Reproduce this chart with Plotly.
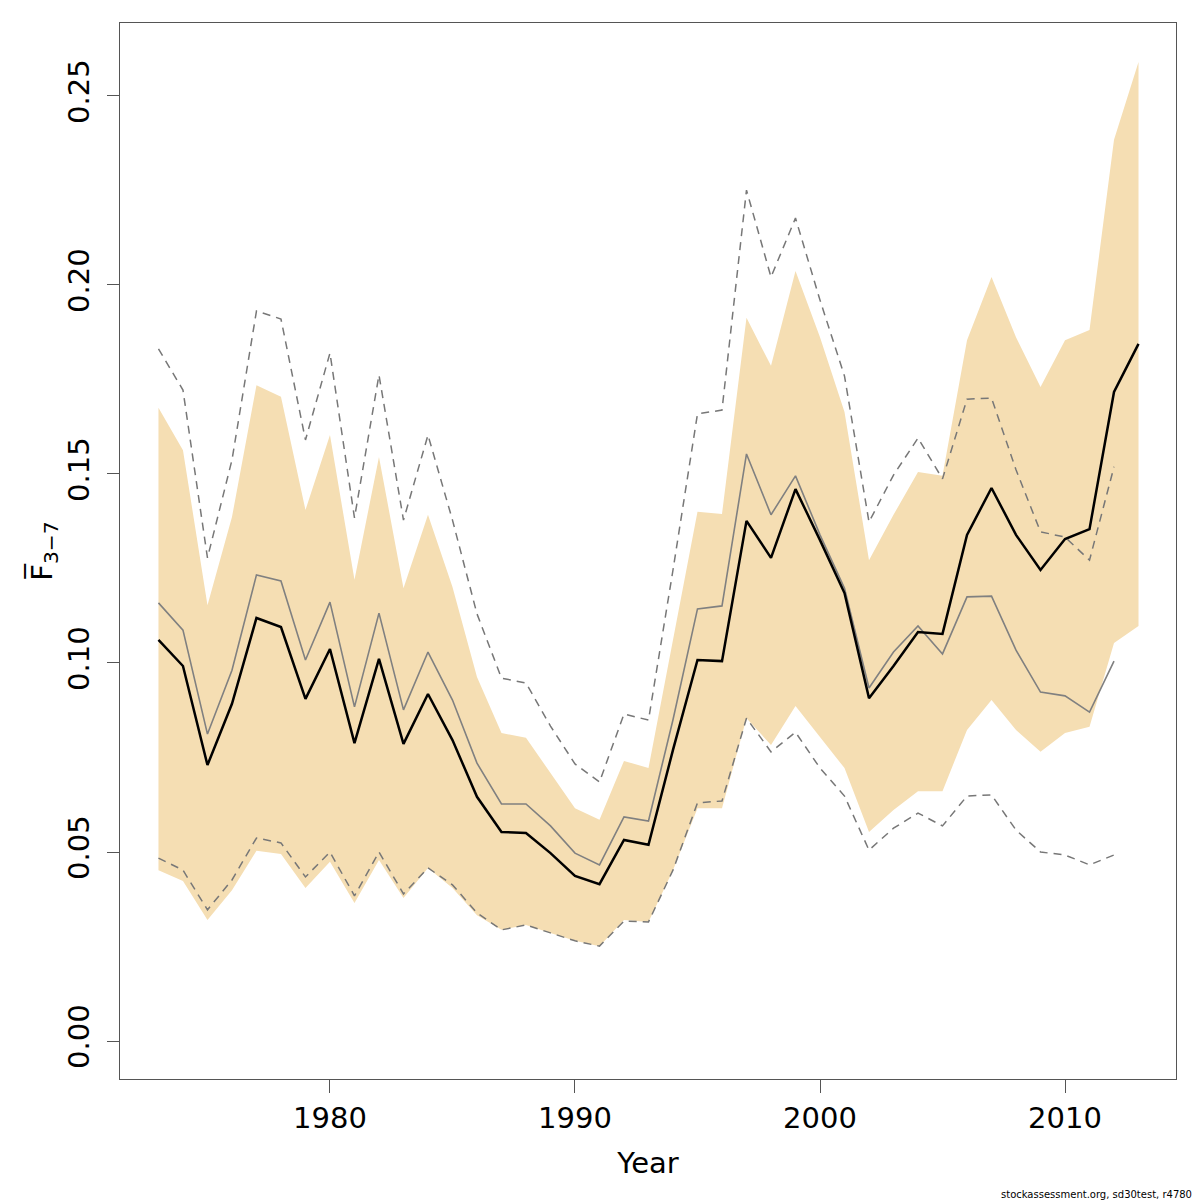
import plotly.graph_objects as go

years = list(range(1973, 2014))

# confidence band (shaded)
band_low = [0.0452, 0.0423, 0.0320, 0.0399, 0.0503, 0.0495, 0.0405, 0.0474, 0.0365, 0.0479,
            0.0378, 0.0458, 0.0405, 0.0333, 0.0294, 0.0307, 0.0286, 0.0265, 0.0251, 0.0320,
            0.0315, 0.0452, 0.0616, 0.0616, 0.0854, 0.0783, 0.0886, 0.0804, 0.0722, 0.0553,
            0.0611, 0.0661, 0.0661, 0.0823, 0.0902, 0.0823, 0.0765, 0.0815, 0.0831, 0.1053,
            0.1098]
band_high = [0.1675, 0.1563, 0.1153, 0.1386, 0.1735, 0.1704, 0.1405, 0.1603, 0.1220, 0.1545,
             0.1198, 0.1392, 0.1201, 0.0963, 0.0815, 0.0802, 0.0709, 0.0616, 0.0585, 0.0741,
             0.0722, 0.1061, 0.1400, 0.1394, 0.1913, 0.1786, 0.2037, 0.1862, 0.1664, 0.1272,
             0.1392, 0.1505, 0.1495, 0.1854, 0.2021, 0.1862, 0.1730, 0.1854, 0.1881, 0.2384,
             0.2590]
fbar = [0.1061, 0.0992, 0.0730, 0.0892, 0.1119, 0.1095, 0.0905, 0.1037, 0.0788, 0.1011,
        0.0786, 0.0918, 0.0796, 0.0646, 0.0553, 0.0550, 0.0497, 0.0437, 0.0415, 0.0532,
        0.0519, 0.0770, 0.1008, 0.1005, 0.1376, 0.1278, 0.1460, 0.1325, 0.1185, 0.0907,
        0.0992, 0.1082, 0.1077, 0.1339, 0.1463, 0.1339, 0.1246, 0.1328, 0.1354, 0.1717,
        0.1844]

# previous assessment (1973-2012)
prev_years = list(range(1973, 2013))
prev_fbar = [0.1159, 0.1087, 0.0812, 0.0981, 0.1233, 0.1217, 0.1008, 0.1161, 0.0884, 0.1132,
             0.0876, 0.1029, 0.0902, 0.0735, 0.0627, 0.0627, 0.0569, 0.0497, 0.0466, 0.0593,
             0.0582, 0.0850, 0.1143, 0.1151, 0.1553, 0.1392, 0.1495, 0.1339, 0.1198, 0.0934,
             0.1029, 0.1098, 0.1024, 0.1175, 0.1177, 0.1034, 0.0923, 0.0913, 0.0870, 0.1005]
prev_high = [0.1831, 0.1722, 0.1278, 0.1537, 0.1931, 0.1910, 0.1590, 0.1820, 0.1384, 0.1762,
             0.1378, 0.1603, 0.1378, 0.1130, 0.0960, 0.0947, 0.0833, 0.0733, 0.0685, 0.0865,
             0.0849, 0.1246, 0.1659, 0.1669, 0.2251, 0.2021, 0.2177, 0.1960, 0.1759, 0.1373,
             0.1497, 0.1595, 0.1487, 0.1698, 0.1701, 0.1511, 0.1347, 0.1333, 0.1272, 0.1519]
prev_low = [0.0484, 0.0452, 0.0347, 0.0426, 0.0537, 0.0524, 0.0434, 0.0500, 0.0384, 0.0500,
            0.0389, 0.0458, 0.0413, 0.0339, 0.0294, 0.0307, 0.0286, 0.0265, 0.0251, 0.0317,
            0.0315, 0.0452, 0.0630, 0.0635, 0.0854, 0.0765, 0.0817, 0.0722, 0.0648, 0.0505,
            0.0563, 0.0603, 0.0569, 0.0648, 0.0651, 0.0558, 0.0500, 0.0492, 0.0466, 0.0492]

x_ticks = [1980, 1990, 2000, 2010]
y_ticks = [0.00, 0.05, 0.10, 0.15, 0.20, 0.25]

font_main = "DejaVu Sans"
axis_col = "#555555"

fig = go.Figure()

# shaded band
fig.add_trace(go.Scatter(x=years, y=band_low, mode="lines", line=dict(width=0),
                         showlegend=False, hoverinfo="skip"))
fig.add_trace(go.Scatter(x=years, y=band_high, mode="lines", line=dict(width=0),
                         fill="tonexty", fillcolor="#F5DEB3", showlegend=False))

# previous estimate with its bounds
fig.add_trace(go.Scatter(x=prev_years, y=prev_high, mode="lines",
                         line=dict(color="#777777", width=1.5, dash="8px,6px"), showlegend=False))
fig.add_trace(go.Scatter(x=prev_years, y=prev_low, mode="lines",
                         line=dict(color="#777777", width=1.5, dash="8px,6px"), showlegend=False))
fig.add_trace(go.Scatter(x=prev_years, y=prev_fbar, mode="lines",
                         line=dict(color="#808080", width=1.6), showlegend=False))

# current estimate
fig.add_trace(go.Scatter(x=years, y=fbar, mode="lines",
                         line=dict(color="black", width=2.5), showlegend=False))

# page has an 8px body margin, so the figure is 1192 and left/top margins are shifted
fig.update_layout(
    width=1192, height=1192,
    margin=dict(l=112, r=24, t=15, b=121),
    paper_bgcolor="white", plot_bgcolor="white",
    font=dict(family=font_main, color="black"),
    xaxis=dict(
        range=[1971.43, 2014.53],
        tickvals=x_ticks,
        ticks="outside", ticklen=13, tickwidth=1, tickcolor=axis_col,
        tickfont=dict(size=29, family=font_main),
        showgrid=False, zeroline=False,
        showline=True, linecolor=axis_col, linewidth=1.2, mirror=True,
        title=dict(text="Year", font=dict(size=29, family=font_main), standoff=18),
    ),
    yaxis=dict(
        range=[-0.01005, 0.2693],
        tickvals=y_ticks,
        ticktext=["%.2f" % v for v in y_ticks],
        tickangle=-90,
        ticks="outside", ticklen=12, tickwidth=1, tickcolor=axis_col,
        tickfont=dict(size=29, family=font_main),
        ticklabelstandoff=6,
        showgrid=False, zeroline=False,
        showline=True, linecolor=axis_col, linewidth=1.2, mirror=True,
        title=dict(text="F\u0305<sub>3\u22127</sub>", font=dict(size=29, family=font_main),
                   standoff=1),
    ),
    annotations=[
        dict(text="stockassessment.org, sd30test, r4780", xref="paper", yref="paper",
             x=1, y=0, xanchor="right", yanchor="middle", xshift=18, yshift=-115,
             showarrow=False, font=dict(size=10, family=font_main, color="black")),
    ],
)

fig.write_html("out.html")
